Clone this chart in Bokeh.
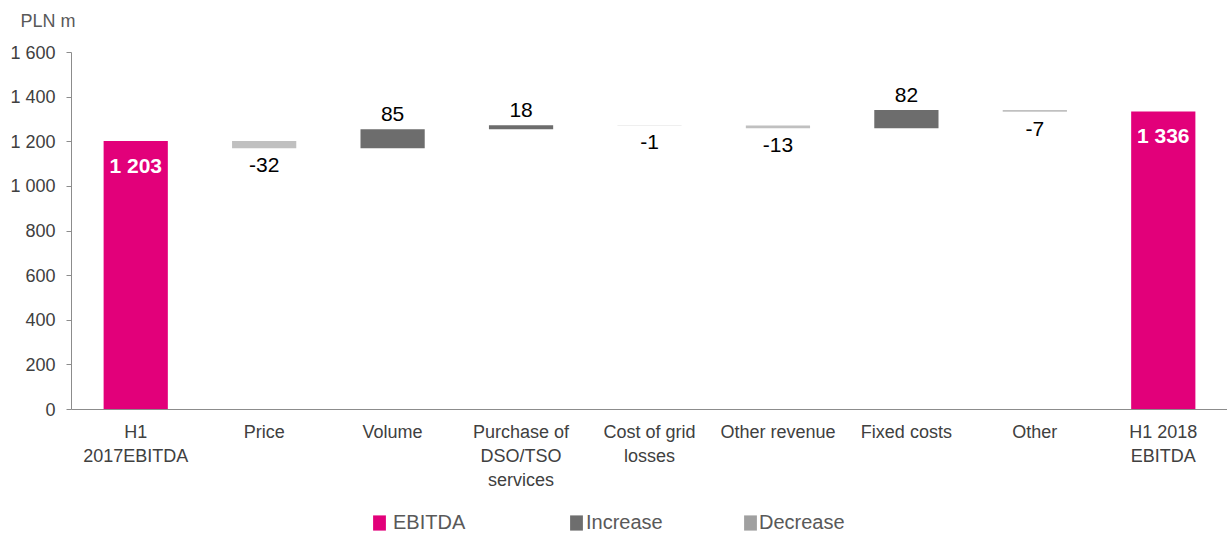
import numpy as np
from bokeh.plotting import figure
from bokeh.layouts import column
from bokeh.models import (ColumnDataSource, FactorRange, FixedTicker, Legend, LegendItem, Title)
from bokeh.core.properties import value
from bokeh.embed import file_html
from bokeh.resources import INLINE

# ---- data ----
categories = ["H1\n2017EBITDA", "Price", "Volume", "Purchase of\nDSO/TSO\nservices",
              "Cost of grid\nlosses", "Other revenue", "Fixed costs", "Other", "H1 2018\nEBITDA"]
start_value = 1203
deltas = [-32, 85, 18, -1, -13, 82, -7]
end_value = 1336
y_ticks = [0, 200, 400, 600, 800, 1000, 1200, 1400, 1600]
y_tick_labels = ["0", "200", "400", "600", "800", "1 000", "1 200", "1 400", "1 600"]
legend_labels = ["EBITDA", "Increase", "Decrease"]
unit_label = "PLN m"

MAGENTA = "#e2007a"
INC = "#6d6d6d"
DEC = "#c0c0c0"
FONT = "Liberation Sans"

# ---- build waterfall ----
cum = np.concatenate([[start_value], start_value + np.cumsum(deltas)])
d_bottom = [min(cum[i], cum[i + 1]) for i in range(len(deltas))]
d_top = [max(cum[i], cum[i + 1]) for i in range(len(deltas))]
d_cats = categories[1:-1]
d_color = [INC if d > 0 else DEC for d in deltas]

delta_src = ColumnDataSource(dict(x=d_cats, bottom=d_bottom, top=d_top, color=d_color))
ebitda_src = ColumnDataSource(dict(x=[categories[0], categories[-1]], top=[start_value, end_value],
                                   label=["1 203", "1 336"]))

inc_lbl = dict(x=[], y=[], t=[])
dec_lbl = dict(x=[], y=[], t=[])
for c, d, b, t in zip(d_cats, deltas, d_bottom, d_top):
    if d > 0:
        inc_lbl["x"].append(c); inc_lbl["y"].append(t); inc_lbl["t"].append(str(d))
    else:
        dec_lbl["x"].append(c); dec_lbl["y"].append(b); dec_lbl["t"].append(str(d))

p = figure(width=1227, height=505, x_range=FactorRange(*categories, range_padding=0),
           y_range=(0, 1600), output_backend="svg", toolbar_location=None,
           min_border_left=71, min_border_right=0, min_border_top=52, min_border_bottom=96)
p.x_range.factor_padding = 0
p.outline_line_color = None
p.xgrid.grid_line_color = None
p.ygrid.grid_line_color = None

# spacer (nearest the frame) then the unit title above it
p.add_layout(Title(text=" ", text_font_size="10px", standoff=4, text_color="white"), "above")
p.add_layout(Title(text=unit_label, align="left", offset=-51, standoff=10, text_font=FONT,
                   text_font_size="18px", text_font_style="normal", text_color="#595959"), "above")

p.vbar(x="x", top="top", bottom=0, width=0.5, source=ebitda_src, fill_color=MAGENTA, line_color=None)
p.vbar(x="x", top="top", bottom="bottom", width=0.5, source=delta_src, fill_color="color", line_color=None)

p.text(x="x", y="top", text="label", source=ebitda_src, text_color="white", text_font=value(FONT),
       text_font_size="21px", text_font_style="bold", text_align="center", text_baseline="alphabetic",
       y_offset=24)
p.text(x="x", y="y", text="t", source=ColumnDataSource(inc_lbl), text_color="black",
       text_font=value(FONT), text_font_size="21px", text_align="center", text_baseline="alphabetic",
       y_offset=-15)
p.text(x="x", y="y", text="t", source=ColumnDataSource(dec_lbl), text_color="black",
       text_font=value(FONT), text_font_size="21px", text_align="center", text_baseline="alphabetic",
       y_offset=17)

# axes
p.yaxis.ticker = FixedTicker(ticks=y_ticks)
p.yaxis.major_label_overrides = {t: l for t, l in zip(y_ticks, y_tick_labels)}
p.yaxis.minor_tick_line_color = None
p.yaxis.major_tick_in = 0
p.yaxis.major_tick_out = 5
p.yaxis.major_label_standoff = 11
for ax in (p.xaxis, p.yaxis):
    ax.axis_line_color = "#8c8c8c"
    ax.major_tick_line_color = "#8c8c8c"
    ax.major_label_text_font = FONT
    ax.major_label_text_font_size = "18px"
    ax.major_label_text_color = "#404040"
p.xaxis.major_tick_line_color = None
p.xaxis.minor_tick_line_color = None
p.xaxis.major_label_standoff = 6

# ---- legend strip ----
leg = figure(width=1227, height=30, x_range=(0, 1), y_range=(0, 1), output_backend="svg",
             toolbar_location=None, x_axis_type=None, y_axis_type=None,
             min_border_left=0, min_border_right=0, min_border_top=0, min_border_bottom=0)
leg.outline_line_color = None
leg.xgrid.grid_line_color = None
leg.ygrid.grid_line_color = None

swatch_colors = [MAGENTA, "#6e6e6e", "#a0a0a0"]
legend_x = [300, 497, 671]
standoffs = [6, 2, 1]
for lab, col, lx, so in zip(legend_labels, swatch_colors, legend_x, standoffs):
    # off-range dummy bar: only its legend swatch is seen
    r = leg.vbar(x="x", top="top", bottom="bottom", width=0.1,
                 source=ColumnDataSource(dict(x=[5.0], top=[6.0], bottom=[5.0])),
                 fill_color=col, line_color=None)
    lg = Legend(items=[LegendItem(label=lab, renderers=[r])], location=(lx, 1),
                border_line_color=None, background_fill_alpha=0,
                label_text_font=FONT, label_text_font_size="20px", label_text_color="#595959",
                glyph_width=16, glyph_height=19, label_height=19, label_width=10,
                padding=0, margin=0, label_standoff=so)
    leg.add_layout(lg, "center")

layout = column(p, leg, spacing=0)
open("out.html", "w").write(file_html(layout, INLINE))
